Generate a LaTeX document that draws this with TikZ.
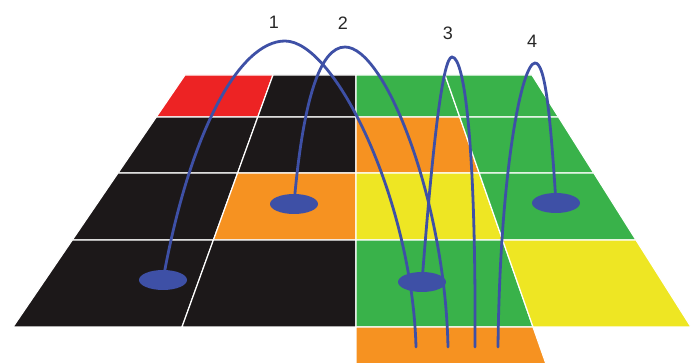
\documentclass[tikz,border=0pt]{standalone}
\usepackage{fontspec}
\setmainfont{Liberation Sans}
\usetikzlibrary{shapes.geometric}
\definecolor{cred}{RGB}{237,35,36}
\definecolor{cblack}{RGB}{28,24,25}
\definecolor{cgreen}{RGB}{57,178,74}
\definecolor{corange}{RGB}{246,146,33}
\definecolor{cyellow}{RGB}{238,230,35}
\definecolor{cblue}{RGB}{62,80,166}
\pgfdeclarelayer{bg}
\pgfdeclarelayer{wires}
\pgfsetlayers{bg,wires,main}
\begin{document}
\begin{tikzpicture}[x=1pt,y=-1pt,
  tile/.style={draw=white,line width=1.2pt,line join=miter},
  spot/.style={ellipse,fill=cblue,minimum width=48pt,minimum height=20pt,inner sep=0pt},
  wire/.style={draw=cblue,line width=2.8pt,line cap=round},
  num/.style={font=\fontsize{18}{20}\selectfont,inner sep=0pt,text=black!85}]
\useasboundingbox (0,0) rectangle (691,363);
\begin{pgfonlayer}{bg}
% left half
\path[tile,fill=cred]   (185,75) -- (273,75) -- (257.8,117) -- (156.3,117) -- cycle;
\path[tile,fill=cblack] (273,75) -- (356,75) -- (356,117) -- (257.8,117) -- cycle;
\path[tile,fill=cblack] (156.3,117) -- (257.8,117) -- (237.6,173) -- (118,173) -- cycle;
\path[tile,fill=cblack] (257.8,117) -- (356,117) -- (356,173) -- (237.6,173) -- cycle;
\path[tile,fill=cblack] (118,173) -- (237.6,173) -- (213.4,240) -- (72.3,240) -- cycle;
\path[tile,fill=corange] (237.6,173) -- (356,173) -- (356,240) -- (213.4,240) -- cycle;
\path[tile,fill=cblack] (72.3,240) -- (213.4,240) -- (182,327) -- (13,327) -- cycle;
\path[tile,fill=cblack] (213.4,240) -- (356,240) -- (356,327) -- (182,327) -- cycle;
% right half
\path[tile,fill=cgreen]  (356,75) -- (445,75) -- (459.7,117) -- (356,117) -- cycle;
\path[tile,fill=cgreen]  (445,75) -- (532,75) -- (558.5,117) -- (459.7,117) -- cycle;
\path[tile,fill=corange] (356,117) -- (459.7,117) -- (479.2,173) -- (356,173) -- cycle;
\path[tile,fill=cgreen]  (459.7,117) -- (558.5,117) -- (593.8,173) -- (479.2,173) -- cycle;
\path[tile,fill=cyellow] (356,173) -- (479.2,173) -- (502.6,240) -- (356,240) -- cycle;
\path[tile,fill=cgreen]  (479.2,173) -- (593.8,173) -- (636,240) -- (502.6,240) -- cycle;
\path[tile,fill=cgreen]  (356,240) -- (502.6,240) -- (533,327) -- (356,327) -- cycle;
\path[tile,fill=cyellow] (502.6,240) -- (636,240) -- (691,327) -- (533,327) -- cycle;
\path[tile,fill=corange] (356,327) -- (533,327) -- (546,364) -- (356,364) -- cycle;
\end{pgfonlayer}
% spots
\node[spot] (e1) at (163,280) {};
\node[spot] (e2) at (294,204) {};
\node[spot] (e3) at (422,282) {};
\node[spot] (e4) at (556,203) {};
% apexes and ends
\coordinate (a1) at (285,41);
\coordinate (a2) at (345,47);
\coordinate (a3) at (452,57);
\coordinate (a4) at (535,63);
\coordinate (b1) at (416,347);
\coordinate (b2) at (448,347);
\coordinate (b3) at (475,347);
\coordinate (b4) at (498,347);
\begin{pgfonlayer}{wires}
\draw[wire] (e1.center) .. controls (190,130) and (240,41) .. (a1)
  .. controls (335,41) and (412,200) .. (b1);
\draw[wire] (e2.center) .. controls (303,100) and (320,47) .. (a2)
  .. controls (385,47) and (445,200) .. (b2);
\draw[wire] (e3.center) .. controls (433,140) and (443,57) .. (a3)
  .. controls (465,57) and (476,150) .. (b3);
\draw[wire] (e4.center) .. controls (550,110) and (545,63) .. (a4)
  .. controls (522,63) and (500,170) .. (b4);
\end{pgfonlayer}
% labels
\node[num] (n1) at (274,22) {1};
\node[num] (n2) at (343,23) {2};
\node[num] (n3) at (448,33) {3};
\node[num] (n4) at (532,41) {4};
\end{tikzpicture}
\end{document}
